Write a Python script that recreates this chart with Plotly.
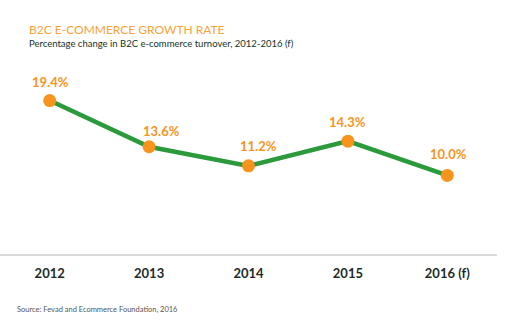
import plotly.graph_objects as go

years = ["2012", "2013", "2014", "2015", "2016 (f)"]
growth = [19.4, 13.6, 11.2, 14.3, 10.0]
labels = [f"{v:.1f}%" for v in growth]

ORANGE = "#F7941D"
GREEN = "#2A9A3B"
FONT = "Lato, 'Open Sans', sans-serif"

fig = go.Figure()
fig.add_trace(go.Scatter(
    x=years, y=growth, mode="lines+markers",
    line=dict(color=GREEN, width=4.5),
    marker=dict(color=ORANGE, size=13, line=dict(width=0)),
    hoverinfo="skip", showlegend=False,
))

# value labels above each point (x given as category index)
x_shifts = [1, 12, 10, 0, 1]
y_shifts = [19, 16, 20, 19, 21]
for i, (v, txt, dx, dy) in enumerate(zip(growth, labels, x_shifts, y_shifts)):
    fig.add_annotation(x=i, y=v, text=f"<b>{txt}</b>", showarrow=False,
                       xshift=dx, yshift=dy,
                       font=dict(family=FONT, size=13, color=ORANGE))

fig.update_layout(
    width=506, height=326,
    margin=dict(l=0, r=9, t=56, b=71),
    paper_bgcolor="white", plot_bgcolor="white",
    font=dict(family=FONT),
    xaxis=dict(type="category", range=[-0.5, 4.5], showgrid=False, zeroline=False,
               showline=False, ticks="", fixedrange=True, ticklabelstandoff=9,
               tickfont=dict(family=FONT, size=13, color="#1E2B28"),
               tickprefix="<b>", ticksuffix="</b>"),
    yaxis=dict(range=[0, 25], showgrid=False, zeroline=True, zerolinecolor="#D9D9D9",
               zerolinewidth=1.5, showticklabels=False, ticks="", fixedrange=True),
)

# titles and source
fig.add_annotation(xref="paper", yref="paper", x=0.0, y=1.0, yshift=36, xshift=27,
                   text="B2C E-COMMERCE GROWTH RATE", showarrow=False, xanchor="left",
                   font=dict(family=FONT, size=12, color="#F7A23A"))
fig.add_annotation(xref="paper", yref="paper", x=0.0, y=1.0, yshift=20, xshift=27,
                   text="Percentage change in B2C e-commerce turnover, 2012-2016 (f)",
                   showarrow=False, xanchor="left",
                   font=dict(family=FONT, size=9.5, color="#143328"))
fig.add_annotation(xref="paper", yref="paper", x=0.0, y=0.0, yshift=-61, xshift=15,
                   text="Source: Fevad and Ecommerce Foundation, 2016",
                   showarrow=False, xanchor="left",
                   font=dict(family=FONT, size=7.5, color="#555555"))

fig.write_html("out.html")
